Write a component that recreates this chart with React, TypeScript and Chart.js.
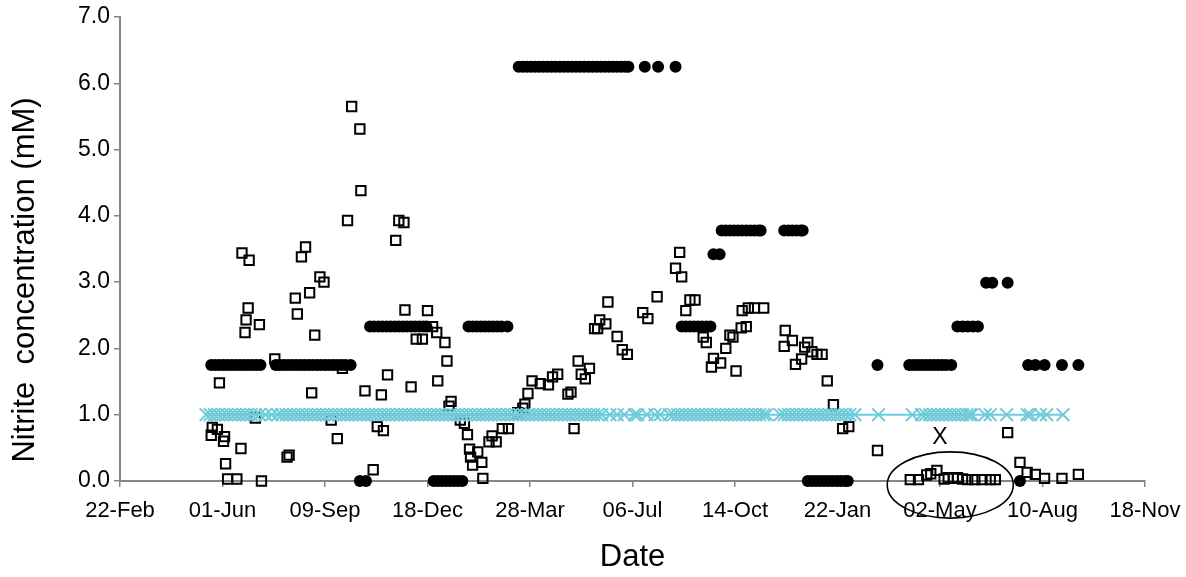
import React, { useEffect, useRef } from 'react';
import { Chart, registerables } from 'chart.js';

Chart.register(...registerables);

// ---- axis labels ----
const xTickLabels = ['22-Feb', '01-Jun', '09-Sep', '18-Dec', '28-Mar', '06-Jul', '14-Oct', '22-Jan', '02-May', '10-Aug', '18-Nov'];
const yTickLabels = ['0.0', '1.0', '2.0', '3.0', '4.0', '5.0', '6.0', '7.0'];
const xTitle = 'Date';
const yTitle = 'Nitrite  concentration (mM)';

// ---- series: [day since 22-Feb, nitrite mM] ----
// cyan reference series (x markers joined by a line)
const cyanPoints: [number, number][] = [
  [84, 1], [88, 1], [92, 1], [96, 1], [100, 1], [104, 1], [108, 1], [112, 1], [116, 1], [120, 1], [124, 1], [128, 1], [132, 1], [136, 1],
  [142, 1], [148, 1], [154, 1], [158, 1], [162, 1], [166, 1], [170, 1], [174, 1], [178, 1], [182, 1], [186, 1], [190, 1], [194, 1], [198, 1],
  [202, 1], [206, 1], [210, 1], [214, 1], [218, 1], [222, 1], [226, 1], [230, 1], [234, 1], [238, 1], [242, 1], [246, 1], [250, 1], [254, 1],
  [258, 1], [262, 1], [266, 1], [270, 1], [274, 1], [278, 1], [282, 1], [286, 1], [290, 1], [294, 1], [298, 1], [302, 1], [306, 1], [310, 1],
  [314, 1], [318, 1], [322, 1], [326, 1], [330, 1], [334, 1], [338, 1], [342, 1], [346, 1], [350, 1], [354, 1], [358, 1], [362, 1], [366, 1],
  [370, 1], [374, 1], [378, 1], [382, 1], [386, 1], [390, 1], [394, 1], [398, 1], [402, 1], [406, 1], [410, 1], [414, 1], [418, 1], [422, 1],
  [426, 1], [430, 1], [434, 1], [438, 1], [442, 1], [446, 1], [450, 1], [454, 1], [458, 1], [462, 1], [466, 1], [470, 1],
  [478, 1], [485, 1], [492, 1], [502, 1], [505, 1], [514, 1], [522, 1], [527, 1],
  [536, 1], [540, 1], [544, 1], [548, 1], [552, 1], [556, 1], [560, 1], [564, 1], [568, 1], [572, 1], [576, 1], [580, 1], [584, 1], [588, 1],
  [592, 1], [596, 1], [600, 1], [604, 1], [608, 1], [612, 1], [616, 1], [620, 1], [624, 1], [628, 1], [631, 1],
  [644, 1], [648, 1], [652, 1], [656, 1], [660, 1], [664, 1], [668, 1], [672, 1], [676, 1], [680, 1], [684, 1], [688, 1], [692, 1], [696, 1],
  [700, 1], [704, 1], [708, 1], [712, 1], [717, 1],
  [740, 1], [773, 1],
  [782, 1], [786, 1], [790, 1], [794, 1], [798, 1], [802, 1], [806, 1], [810, 1], [814, 1], [818, 1], [822, 1], [826, 1], [829, 1],
  [831, 1], [844, 1], [849, 1], [865, 1], [885, 1], [888, 1], [898, 1], [904, 1], [920, 1],
];

// open squares
const squarePoints: [number, number][] = [
  [89, 0.69], [90, 0.81], [95, 0.78], [97, 1.48], [101, 0.6], [102, 0.67], [103, 0.26], [105, 0.03], [114, 0.03], [118, 0.49],
  [119, 3.44], [122, 2.24], [123, 2.43], [125, 2.61], [126, 3.33], [132, 0.95], [136, 2.36], [138, 0.0], [151, 1.84], [163, 0.36],
  [165, 0.39], [171, 2.76], [173, 2.52], [177, 3.38], [181, 3.53], [185, 2.84], [187, 1.33], [190, 2.2], [195, 3.08], [199, 3.0],
  [206, 0.92], [212, 0.64], [217, 1.7], [222, 3.93], [226, 5.65], [234, 5.31], [235, 4.38], [239, 1.36], [247, 0.17], [251, 0.82],
  [255, 1.3], [257, 0.76], [261, 1.6], [269, 3.63], [272, 3.93], [277, 3.9], [278, 2.58], [284, 1.42], [289, 2.14], [295, 2.14],
  [300, 2.57], [305, 2.33], [309, 2.24], [310, 1.51], [317, 2.09], [319, 1.81], [321, 1.13], [323, 1.2], [332, 0.92], [336, 0.87],
  [339, 0.7], [341, 0.48], [342, 0.36], [344, 0.24], [349, 0.44], [353, 0.28], [354, 0.04], [360, 0.59], [363, 0.68], [367, 0.59],
  [373, 0.79], [379, 0.79], [388, 1.03], [393, 1.1], [395, 1.16], [398, 1.32], [402, 1.51], [410, 1.47], [418, 1.45], [422, 1.57],
  [427, 1.61], [437, 1.31], [440, 1.34], [443, 0.79], [447, 1.81], [450, 1.61], [454, 1.54], [458, 1.7], [463, 2.3], [466, 2.3],
  [468, 2.43], [474, 2.37], [476, 2.7], [485, 2.18], [490, 1.98], [495, 1.91], [510, 2.54], [515, 2.45], [524, 2.78], [542, 3.21],
  [546, 3.45], [548, 3.08], [552, 2.57], [556, 2.73], [561, 2.73], [569, 2.17], [572, 2.09], [577, 1.72], [579, 1.85], [586, 1.78],
  [591, 2.0], [595, 2.2], [598, 2.17], [601, 1.66], [606, 2.31], [607, 2.57], [611, 2.33], [613, 2.61], [619, 2.61], [628, 2.61],
  [648, 2.03], [649, 2.27], [656, 2.12], [659, 1.76], [665, 1.84], [668, 2.02], [671, 2.09], [675, 1.95], [680, 1.91], [685, 1.91],
  [690, 1.51], [696, 1.15], [705, 0.79], [711, 0.82], [739, 0.46],
  [771, 0.02], [779, 0.02], [787, 0.09], [791, 0.11], [797, 0.16], [804, 0.03], [808, 0.05], [813, 0.04], [817, 0.05], [822, 0.03],
  [827, 0.02], [834, 0.02], [841, 0.02], [849, 0.02], [854, 0.02],
  [866, 0.73], [878, 0.28], [885, 0.13], [893, 0.1], [902, 0.04], [919, 0.04], [935, 0.1],
];

// filled circles
const blackPoints: [number, number][] = [
  [89, 1.75], [93, 1.75], [97, 1.75], [101, 1.75], [105, 1.75], [109, 1.75], [113, 1.75], [117, 1.75], [121, 1.75], [125, 1.75], [129, 1.75],
  [133, 1.75], [137, 1.75],
  [152, 1.75], [156, 1.75], [160, 1.75], [164, 1.75], [168, 1.75], [172, 1.75], [176, 1.75], [180, 1.75], [184, 1.75], [188, 1.75], [192, 1.75],
  [196, 1.75], [200, 1.75], [204, 1.75], [208, 1.75], [212, 1.75], [216, 1.75], [220, 1.75], [225, 1.75],
  [234, 0], [240, 0],
  [244, 2.33], [248, 2.33], [252, 2.33], [256, 2.33], [260, 2.33], [264, 2.33], [268, 2.33], [272, 2.33], [276, 2.33], [280, 2.33], [284, 2.33],
  [288, 2.33], [292, 2.33], [296, 2.33], [299, 2.33],
  [306, 0], [310, 0], [314, 0], [318, 0], [322, 0], [326, 0], [330, 0], [334, 0],
  [340, 2.33], [344, 2.33], [348, 2.33], [352, 2.33], [356, 2.33], [360, 2.33], [364, 2.33], [368, 2.33], [372, 2.33], [378, 2.33],
  [389, 6.25], [393, 6.25], [397, 6.25], [401, 6.25], [405, 6.25], [409, 6.25], [413, 6.25], [417, 6.25], [421, 6.25], [425, 6.25], [429, 6.25],
  [433, 6.25], [437, 6.25], [441, 6.25], [445, 6.25], [449, 6.25], [453, 6.25], [457, 6.25], [461, 6.25], [465, 6.25], [469, 6.25], [473, 6.25],
  [477, 6.25], [481, 6.25], [485, 6.25], [489, 6.25], [493, 6.25], [496, 6.25], [512, 6.25], [525, 6.25], [542, 6.25],
  [548, 2.33], [552, 2.33], [556, 2.33], [560, 2.33], [564, 2.33], [568, 2.33], [572, 2.33], [576, 2.33],
  [579, 3.42], [585, 3.42],
  [587, 3.78], [591, 3.78], [595, 3.78], [599, 3.78], [603, 3.78], [607, 3.78], [611, 3.78], [615, 3.78], [619, 3.78], [623, 3.78], [625, 3.78],
  [648, 3.78], [652, 3.78], [656, 3.78], [660, 3.78], [664, 3.78], [666, 3.78],
  [671, 0], [675, 0], [679, 0], [683, 0], [687, 0], [691, 0], [695, 0], [699, 0], [703, 0], [707, 0], [710, 0],
  [739, 1.75],
  [770, 1.75], [774, 1.75], [778, 1.75], [782, 1.75], [786, 1.75], [790, 1.75], [794, 1.75], [798, 1.75], [802, 1.75], [806, 1.75], [811, 1.75],
  [817, 2.33], [822, 2.33], [827, 2.33], [832, 2.33], [837, 2.33],
  [845, 2.99], [851, 2.99], [866, 2.99],
  [878, 0],
  [886, 1.75], [893, 1.75], [902, 1.75], [919, 1.75], [935, 1.75],
];

// annotation (data coordinates)
const noteLabel = 'X';
const noteLabelAt: [number, number] = [800, 0.66];
const noteEllipse = { cx: 810, cy: -0.06, rx: 61.5, ry: 0.5 };

const FONT = "'Liberation Sans', Arial, Helvetica, sans-serif";
const CYAN = '#6ecbd8';
const AXIS = '#868686';

const toXY = (pts: [number, number][]) => pts.map(([x, y]) => ({ x, y }));

const overlayPlugin = {
  id: 'overlay',
  afterDraw(chart: any) {
    const { ctx, scales } = chart;
    const xs = scales.x;
    const ys = scales.y;
    ctx.save();
    // ellipse
    const cx = xs.getPixelForValue(noteEllipse.cx);
    const cy = ys.getPixelForValue(noteEllipse.cy);
    const rx = Math.abs(xs.getPixelForValue(noteEllipse.cx + noteEllipse.rx) - cx);
    const ry = Math.abs(ys.getPixelForValue(noteEllipse.cy + noteEllipse.ry) - cy);
    ctx.beginPath();
    ctx.ellipse(cx, cy, rx, ry, 0, 0, Math.PI * 2);
    ctx.strokeStyle = '#000';
    ctx.lineWidth = 1.6;
    ctx.stroke();
    // label
    ctx.fillStyle = '#000';
    ctx.font = `23px ${FONT}`;
    ctx.textAlign = 'center';
    ctx.textBaseline = 'middle';
    ctx.fillText(noteLabel, xs.getPixelForValue(noteLabelAt[0]), ys.getPixelForValue(noteLabelAt[1]));
    // y axis title
    ctx.translate(25, 280);
    ctx.rotate(-Math.PI / 2);
    ctx.font = `31px ${FONT}`;
    ctx.fillText(yTitle, 0, 0);
    ctx.restore();
  },
};

export default function App() {
  const ref = useRef<HTMLCanvasElement | null>(null);
  useEffect(() => {
    if (!ref.current) return;
    const chart = new Chart(ref.current, {
      type: 'scatter',
      data: {
        datasets: [
          {
            label: 'reference',
            data: toXY(cyanPoints),
            showLine: true,
            borderColor: CYAN,
            borderWidth: 2,
            pointStyle: 'crossRot',
            pointRadius: 9,
            pointBorderColor: CYAN,
            pointBorderWidth: 2,
            pointBackgroundColor: CYAN,
            clip: false,
          } as any,
          {
            label: 'squares',
            data: toXY(squarePoints),
            pointStyle: 'rect',
            pointRadius: 6.6,
            pointBorderColor: '#000',
            pointBorderWidth: 2,
            pointBackgroundColor: 'rgba(0,0,0,0)',
            clip: false,
          } as any,
          {
            label: 'circles',
            data: toXY(blackPoints),
            pointStyle: 'circle',
            pointRadius: 6,
            pointBorderColor: '#000',
            pointBorderWidth: 0,
            pointBackgroundColor: '#000',
            clip: false,
          } as any,
        ],
      },
      options: {
        animation: false,
        responsive: false,
        events: [],
        layout: { padding: { top: 17, right: 41, bottom: 0, left: 0 } },
        plugins: { legend: { display: false }, tooltip: { enabled: false } },
        scales: {
          x: {
            type: 'linear',
            position: 'bottom',
            min: 0,
            max: 1000,
            afterFit: (s: any) => { s.height = 96; s.paddingLeft = 0; s.paddingRight = 0; },
            ticks: {
              stepSize: 100,
              autoSkip: false,
              maxRotation: 0,
              color: '#000',
              padding: 11,
              font: { family: FONT, size: 22 },
              callback: (_v: any, i: number) => xTickLabels[i],
            },
            grid: { display: true, drawOnChartArea: false, drawTicks: true, tickLength: 6, color: AXIS, lineWidth: 1.5 },
            border: { display: true, color: AXIS, width: 2 },
            title: { display: true, text: xTitle, color: '#000', font: { family: FONT, size: 31 }, padding: { top: 0, bottom: 1 } },
          },
          y: {
            type: 'linear',
            min: 0,
            max: 7,
            afterFit: (s: any) => { s.width = 120; s.paddingTop = 0; s.paddingBottom = 0; },
            ticks: {
              stepSize: 1,
              color: '#000',
              padding: 4,
              font: { family: FONT, size: 23 },
              callback: (_v: any, i: number) => yTickLabels[i],
            },
            grid: { display: true, drawOnChartArea: false, drawTicks: true, tickLength: 6, color: AXIS, lineWidth: 1.5 },
            border: { display: true, color: AXIS, width: 2 },
            title: { display: false },
          },
        },
      } as any,
      plugins: [overlayPlugin],
    });
    return () => chart.destroy();
  }, []);
  return (
    <div style={{ position: 'absolute', left: 0, top: 0, width: 1186, height: 577, background: '#fff' }}>
      <canvas ref={ref} width={1186} height={577} style={{ display: 'block' }} />
    </div>
  );
}
